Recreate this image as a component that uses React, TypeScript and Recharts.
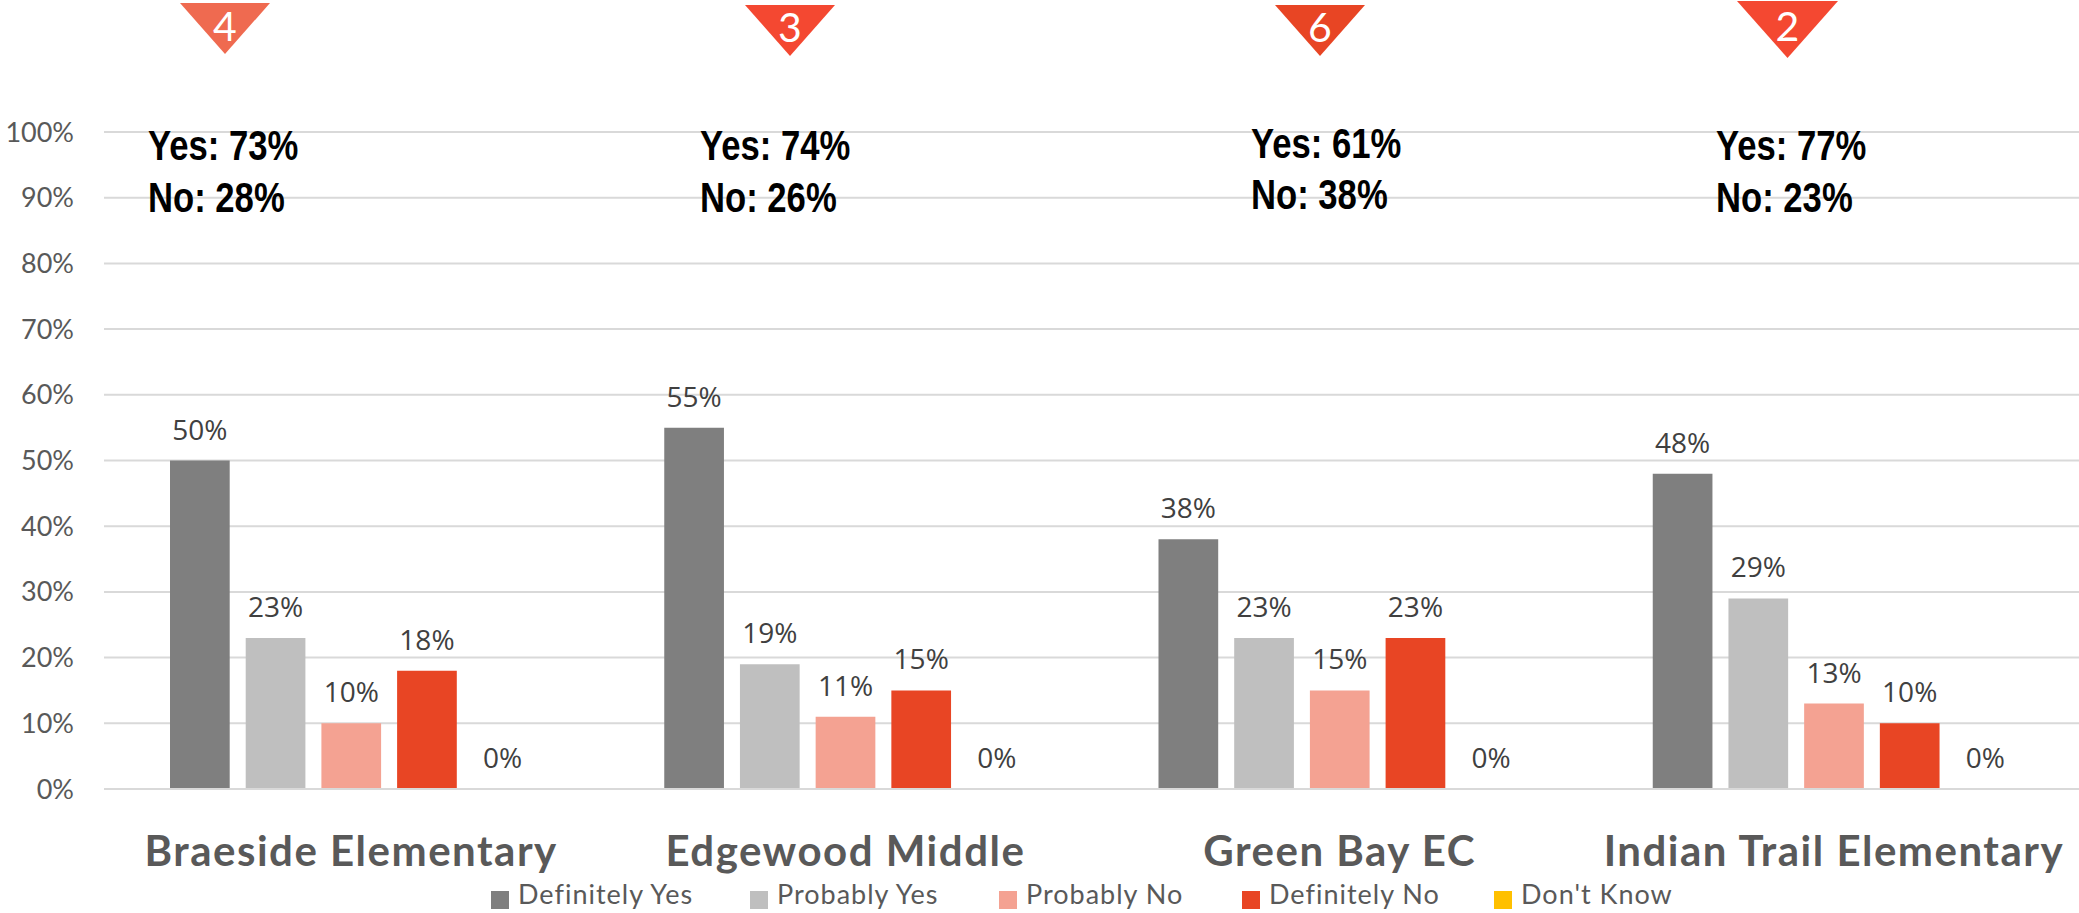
import React from 'react';
import { BarChart, Bar, XAxis, YAxis, CartesianGrid, LabelList, Legend } from 'recharts';

const schools = ['Braeside Elementary', 'Edgewood Middle', 'Green Bay EC', 'Indian Trail Elementary'];
const definitelyYes = [50, 55, 38, 48];
const probablyYes = [23, 19, 23, 29];
const probablyNo = [10, 11, 15, 13];
const definitelyNo = [18, 15, 23, 10];
const dontKnow = [0, 0, 0, 0];
const yAxisTicks = [0, 10, 20, 30, 40, 50, 60, 70, 80, 90, 100];

const ranks = ['4', '3', '6', '2'];
const yesTotals = ['Yes: 73%', 'Yes: 74%', 'Yes: 61%', 'Yes: 77%'];
const noTotals = ['No: 28%', 'No: 26%', 'No: 38%', 'No: 23%'];

const data = schools.map((school, i) => ({
  school,
  definitelyYes: definitelyYes[i],
  probablyYes: probablyYes[i],
  probablyNo: probablyNo[i],
  definitelyNo: definitelyNo[i],
  dontKnow: dontKnow[i],
}));

const series = [
  { key: 'definitelyYes', name: 'Definitely Yes', color: '#7F7F7F' },
  { key: 'probablyYes', name: 'Probably Yes', color: '#BFBFBF' },
  { key: 'probablyNo', name: 'Probably No', color: '#F4A292' },
  { key: 'definitelyNo', name: 'Definitely No', color: '#E84524' },
  { key: 'dontKnow', name: "Don't Know", color: '#FFC000' },
];

// overlay placement, in page pixels
const triangles = [
  { left: 180, right: 270, top: 3, bottom: 54, fill: '#EF6A50', digit: 41 },
  { left: 745, right: 835, top: 5, bottom: 56, fill: '#F44831', digit: 42 },
  { left: 1275, right: 1365, top: 5, bottom: 56, fill: '#E84524', digit: 42 },
  { left: 1737, right: 1838, top: 1, bottom: 58, fill: '#F44831', digit: 41 },
];
const totalsPos = [
  { x: 148, yes: 160, no: 212 },
  { x: 700, yes: 160, no: 212 },
  { x: 1251, yes: 158, no: 209 },
  { x: 1716, yes: 160, no: 212 },
];
const legendLefts = [491, 750, 999, 1242, 1494];

const FONT = 'Lato, sans-serif';
const TEXT = '#595959';

const LegendRow = ({ payload }: any) => (
  <div style={{ position: 'relative', height: 40, fontFamily: FONT }}>
    {(payload || []).map((p: any, i: number) => (
      <div key={p.value} style={{ position: 'absolute', left: legendLefts[i], top: 6, display: 'flex', alignItems: 'center', height: 30 }}>
        <span style={{ width: 18, height: 18, background: p.color, marginRight: 9, marginTop: 12 }} />
        <span style={{ fontSize: 27, color: TEXT, whiteSpace: 'nowrap', lineHeight: '30px', letterSpacing: 1 }}>{p.value}</span>
      </div>
    ))}
  </div>
);

const App = () => {
  return (
    <div style={{ position: 'absolute', left: 0, top: 0, width: 2079, height: 913, overflow: 'hidden', background: '#fff' }}>
      <BarChart
        width={2079}
        height={913}
        data={data}
        margin={{ top: 132, right: -2, left: 0, bottom: 0 }}
        barSize={59.7}
        barGap={16}
      >
        <CartesianGrid horizontal vertical={false} stroke="#D9D9D9" strokeWidth={2} />
        <XAxis
          dataKey="school"
          height={84}
          interval={0}
          tickLine={false}
          tickMargin={47}
          tickSize={0}
          axisLine={{ stroke: '#D9D9D9', strokeWidth: 2 }}
          tick={{ fontFamily: FONT, fontSize: 42, fontWeight: 700, fill: TEXT, letterSpacing: 1.5 }}
        />
        <YAxis
          width={104}
          domain={[0, 100]}
          ticks={yAxisTicks}
          interval={0}
          axisLine={false}
          tickLine={false}
          tickSize={0}
          tickMargin={30}
          tickFormatter={(v) => `${v}%`}
          tick={{ fontFamily: FONT, fontSize: 27, fill: TEXT }}
        />
        <Legend verticalAlign="bottom" itemSorter={null} content={<LegendRow />} wrapperStyle={{ left: 0, bottom: 0, width: 2079 }} />
        {series.map((s) => (
          <Bar key={s.key} dataKey={s.key} name={s.name} fill={s.color} minPointSize={0.01} isAnimationActive={false}>
            <LabelList
              dataKey={s.key}
              position="top"
              offset={21}
              formatter={(v: any) => `${v}%`}
              style={{ fontFamily: '"Open Sans", sans-serif', fontSize: 28, fill: '#404040' }}
            />
          </Bar>
        ))}
      </BarChart>

      <svg width={2079} height={913} style={{ position: 'absolute', left: 0, top: 0, pointerEvents: 'none' }}>
        {triangles.map((t, i) => (
          <g key={i}>
            <polygon points={`${t.left},${t.top} ${t.right},${t.top} ${(t.left + t.right) / 2},${t.bottom}`} fill={t.fill} />
            <text x={(t.left + t.right) / 2} y={t.digit} textAnchor="middle" fontFamily={FONT} fontSize={41} fill="#fff">
              {ranks[i]}
            </text>
          </g>
        ))}
        {totalsPos.map((p, i) => (
          <g key={i} fontFamily="'Liberation Sans', sans-serif" fontWeight={700} fontSize={42} fill="#000">
            <text transform={`translate(${p.x} ${p.yes}) scale(0.825 1)`}>{yesTotals[i]}</text>
            <text transform={`translate(${p.x} ${p.no}) scale(0.825 1)`}>{noTotals[i]}</text>
          </g>
        ))}
      </svg>
    </div>
  );
};

export default App;
